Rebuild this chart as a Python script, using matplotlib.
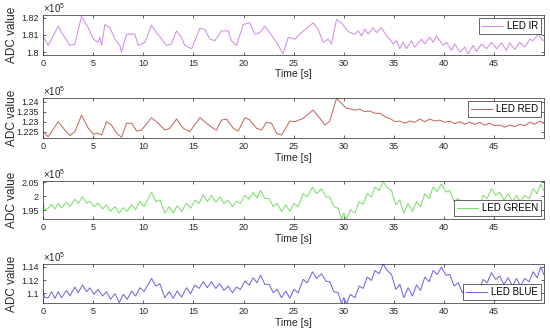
import matplotlib
matplotlib.use("Agg")
import matplotlib.pyplot as plt
from matplotlib import font_manager
from matplotlib.ticker import FixedLocator, FuncFormatter

# the reference text is horizontally narrow -> use the narrow cut when present
names = {f.name for f in font_manager.fontManager.ttflist}
narrow = 'Liberation Sans Narrow' if 'Liberation Sans Narrow' in names else 'Liberation Sans'
tick_size = 7.5 if narrow != 'Liberation Sans' else 6.5

plt.rcParams['font.family'] = [narrow, 'DejaVu Sans']
plt.rcParams['font.size'] = 7.5
plt.rcParams['mathtext.fontset'] = 'custom'
plt.rcParams['mathtext.rm'] = narrow

# ---------------- data ----------------
# LED IR
t_ir = [0.00, 0.53, 1.53, 1.69, 2.19, 2.69, 3.19, 3.85, 4.52, 5.02,
        5.51, 5.68, 5.85, 6.18, 6.68, 7.18, 7.67, 7.84, 8.34, 9.17,
        9.50, 10.17, 10.83, 11.33, 12.33, 12.82, 13.32, 13.82, 14.15, 14.82,
        15.65, 16.15, 16.64, 17.14, 17.81, 18.47, 18.80, 19.30, 19.97, 20.63,
        21.13, 21.63, 22.13, 22.96, 23.46, 23.95, 24.45, 25.12, 25.78, 26.94,
        27.44, 27.94, 28.44, 28.77, 29.27, 29.77, 30.10, 30.60, 31.10, 31.43,
        31.76, 32.09, 32.43, 32.92, 33.26, 33.75, 34.25, 34.58, 34.92, 35.25,
        35.58, 35.91, 36.25, 36.74, 37.08, 37.74, 38.07, 38.57, 38.90, 39.24,
        39.90, 40.23, 40.73, 41.06, 41.56, 42.06, 42.39, 42.89, 43.22, 43.72,
        44.22, 44.72, 45.22, 45.71, 46.21, 46.54, 47.04, 47.54, 48.04, 48.54,
        48.87, 49.37, 49.87]
ir = [180940, 180380, 181510, 181300, 180850, 180380, 180470, 182080, 181420, 180750,
      180570, 180850, 180380, 181600, 181420, 180750, 180380, 180000, 181040, 181040,
      180380, 180570, 181550, 181130, 180380, 180470, 181230, 180850, 180380, 180190,
      181380, 181320, 180750, 180660, 181230, 181230, 180660, 180380, 181600, 181700,
      181040, 181130, 181510, 180850, 180380, 179900, 180850, 180750, 181130, 181700,
      181320, 180570, 180750, 180470, 181890, 181700, 181420, 181130, 181040, 181230,
      180940, 181320, 181040, 181420, 181130, 181420, 180940, 180750, 180470, 180660,
      180190, 180570, 180190, 180660, 180280, 180750, 180470, 180850, 180570, 180940,
      180380, 180570, 180090, 180470, 180000, 180280, 179900, 180380, 180040, 180470,
      180190, 180570, 180190, 180530, 180090, 180530, 180150, 180570, 180280, 180750,
      180660, 181040, 180660]

# LED RED
t_red = [0.00, 0.53, 1.53, 2.19, 2.69, 3.19, 3.85, 4.52, 5.02, 5.51,
         5.85, 6.35, 6.84, 7.34, 7.84, 8.34, 8.84, 9.34, 9.83, 10.83,
         11.50, 12.16, 12.66, 13.32, 13.99, 14.65, 15.65, 16.31, 16.98, 17.31,
         17.81, 18.31, 18.97, 19.47, 20.13, 20.63, 21.30, 21.79, 22.29, 22.79,
         23.29, 23.79, 24.62, 25.12, 25.95, 26.94, 27.61, 28.11, 28.60, 29.27,
         29.77, 30.27, 30.76, 31.10, 31.59, 32.09, 32.59, 33.09, 33.59, 34.09,
         34.58, 35.08, 35.58, 36.08, 36.58, 37.08, 37.57, 38.07, 38.57, 39.07,
         39.57, 40.07, 40.56, 41.06, 41.56, 42.06, 42.56, 43.06, 43.55, 44.05,
         44.55, 45.05, 45.55, 46.05, 46.54, 47.04, 47.54, 48.04, 48.54, 49.04,
         49.53, 49.93]
red = [122500, 122250, 123000, 122580, 122300, 122500, 123330, 122670, 122370, 122420,
       122330, 123000, 122830, 122420, 122220, 122920, 122920, 122530, 122580, 123200,
       122920, 122580, 122670, 123130, 122670, 122500, 123200, 122920, 122670, 122580,
       123080, 123130, 122670, 122530, 123200, 123080, 122670, 122580, 122970, 122920,
       122420, 122330, 123030, 123000, 123170, 123580, 123170, 122830, 123030, 124170,
       123920, 123670, 123630, 123580, 123630, 123500, 123530, 123420, 123420, 123250,
       123170, 123000, 123030, 122920, 123030, 122970, 123130, 123000, 123130, 123030,
       123080, 122970, 123030, 122900, 123000, 122870, 122970, 122870, 122970, 122830,
       122920, 122800, 122830, 122720, 122830, 122750, 122870, 122800, 122970, 122870,
       123030, 122920]

# LED GREEN / LED BLUE (same time base)
t_gb = [0.00, 0.20, 0.53, 0.86, 1.20, 1.53, 1.86, 2.36, 2.69, 3.19,
        3.52, 3.95, 4.35, 4.68, 5.08, 5.51, 5.95, 6.35, 6.74, 7.18,
        7.61, 8.01, 8.41, 8.84, 9.24, 9.67, 10.07, 10.83, 11.26, 11.66,
        12.16, 12.59, 12.99, 13.39, 13.82, 14.32, 14.72, 15.15, 15.58, 15.98,
        16.38, 16.81, 17.24, 17.64, 18.04, 18.47, 18.90, 19.30, 19.70, 20.13,
        20.56, 20.96, 21.36, 21.69, 22.13, 22.56, 22.96, 23.36, 23.79, 24.22,
        24.62, 25.02, 25.45, 25.95, 26.35, 26.88, 27.28, 27.77, 28.21, 28.60,
        29.00, 29.44, 29.77, 30.00, 30.27, 30.66, 31.10, 31.53, 31.93, 32.33,
        32.76, 33.09, 33.52, 33.92, 34.32, 34.75, 35.18, 35.58, 35.98, 36.41,
        36.84, 37.24, 37.64, 38.07, 38.50, 38.90, 39.30, 39.73, 40.17, 40.56,
        40.99, 41.40, 41.83, 42.23, 42.62, 43.06, 43.49, 43.89, 44.29, 44.72,
        45.15, 45.55, 45.95, 46.38, 46.81, 47.21, 47.61, 48.04, 48.47, 48.87,
        49.27, 49.63, 49.93]
green = [197440, 195120, 195700, 197090, 195460, 197440, 195930, 197780, 196280, 198940,
         197440, 199760, 197440, 198250, 196280, 197440, 195460, 196860, 194540, 196280,
         193960, 195930, 194540, 197090, 195120, 198250, 196280, 201500, 198020, 198600,
         193960, 196280, 193960, 196620, 194540, 197440, 195700, 198600, 197440, 200570,
         198020, 200340, 197780, 199760, 197440, 198600, 196280, 198250, 197440, 200340,
         198940, 201260, 199410, 202080, 199180, 199180, 196280, 197440, 194540, 196860,
         194540, 197440, 196280, 200920, 199760, 203240, 200920, 202660, 199760, 199760,
         196280, 195700, 191640, 193960, 191640, 195120, 193960, 198020, 197090, 200920,
         199760, 203240, 202080, 205210, 203240, 202080, 196860, 198600, 193960, 197440,
         194540, 198020, 196280, 200920, 199180, 203240, 201730, 204400, 201500, 202080,
         198020, 199180, 195700, 197440, 194540, 197780, 196280, 200340, 199180, 202660,
         200340, 201500, 198600, 200920, 198020, 200340, 198020, 200340, 199180, 202660,
         200920, 204400, 202080]
blue = [110350, 109350, 109350, 110250, 109250, 110250, 109350, 110450, 109600, 110950,
        110100, 111250, 110250, 110850, 109850, 110600, 109600, 110250, 109100, 109950,
        108600, 109850, 109100, 110350, 109600, 110850, 110250, 112250, 111100, 111450,
        109350, 110250, 109250, 110350, 109450, 110850, 109950, 111250, 110750, 111750,
        110850, 111750, 110750, 111450, 110450, 111100, 110100, 110950, 110600, 111850,
        111250, 112350, 111600, 112750, 111350, 111350, 110100, 110600, 109350, 110350,
        109250, 110600, 110100, 112100, 111600, 113250, 112250, 112950, 111850, 111750,
        110250, 110100, 108450, 109350, 108450, 109850, 109350, 111100, 110750, 112450,
        111950, 113450, 112950, 114450, 113450, 112850, 110600, 111350, 109350, 110850,
        109600, 111250, 110450, 112450, 111750, 113450, 112850, 113950, 112750, 112850,
        111100, 111600, 110100, 110850, 109450, 111100, 110450, 112100, 111600, 113100,
        112100, 112600, 111350, 112350, 111100, 112250, 111100, 112250, 111750, 113250,
        112350, 113950, 112850]

labels = ['LED IR', 'LED RED', 'LED GREEN', 'LED BLUE']
colors = ['#d08ee8', '#c46c62', '#80dc70', '#6c6cdc']
ylims = [(179830, 182150), (122180, 124180), (191800, 205500), (108550, 114400)]
yticks = [[180000, 181000, 182000],
          [122500, 123000, 123500, 124000],
          [195000, 200000, 205000],
          [110000, 112000, 114000]]
legend_loc = ['upper right', 'upper right', 'lower right', 'lower right']
series = [(t_ir, ir), (t_red, red), (t_gb, green), (t_gb, blue)]

# ---------------- figure ----------------
fig = plt.figure(figsize=(5.5, 3.35), dpi=100)
boxes = [(0.078, 0.836, 0.911, 0.119),
         (0.078, 0.588, 0.911, 0.119),
         (0.078, 0.346, 0.911, 0.114),
         (0.078, 0.0955, 0.911, 0.116)]
axc = '#262626'

for i, (x, y) in enumerate(series):
    ax = fig.add_axes(boxes[i])
    ax.plot(x, y, color=colors[i], lw=0.75, label=labels[i])
    ax.set_xlim(0, 49.95)
    ax.set_ylim(*ylims[i])
    ax.xaxis.set_major_locator(FixedLocator(range(0, 50, 5)))
    ax.yaxis.set_major_locator(FixedLocator(yticks[i]))
    ax.yaxis.set_major_formatter(FuncFormatter(lambda v, p: '%g' % (v / 1e5)))
    ax.tick_params(direction='in', length=2.5, width=0.5, top=True, right=True,
                   colors=axc, labelsize=tick_size, pad=3)
    for s in ax.spines.values():
        s.set_linewidth(0.5)
        s.set_color(axc)
    ax.set_xlabel('Time [s]', fontsize=7.5, color=axc, labelpad=1)
    ax.set_ylabel('ADC value', fontsize=8.5, color=axc, family='Liberation Sans')
    # same label position in every panel (MATLAB style)
    ax.yaxis.set_label_coords(-0.05, 0.5)
    ax.text(0.0, 1.01, r'$\times\mathregular{10^5}$', transform=ax.transAxes,
            fontsize=7, color=axc, va='bottom', ha='left')
    leg = ax.legend(loc=legend_loc[i], fontsize=7, frameon=True, fancybox=False,
                    handlelength=2.2, handletextpad=0.4, borderpad=0.3,
                    borderaxespad=0.3, framealpha=1)
    leg.get_frame().set_edgecolor(axc)
    leg.get_frame().set_linewidth(0.5)

fig.savefig('out.png', dpi=100)
